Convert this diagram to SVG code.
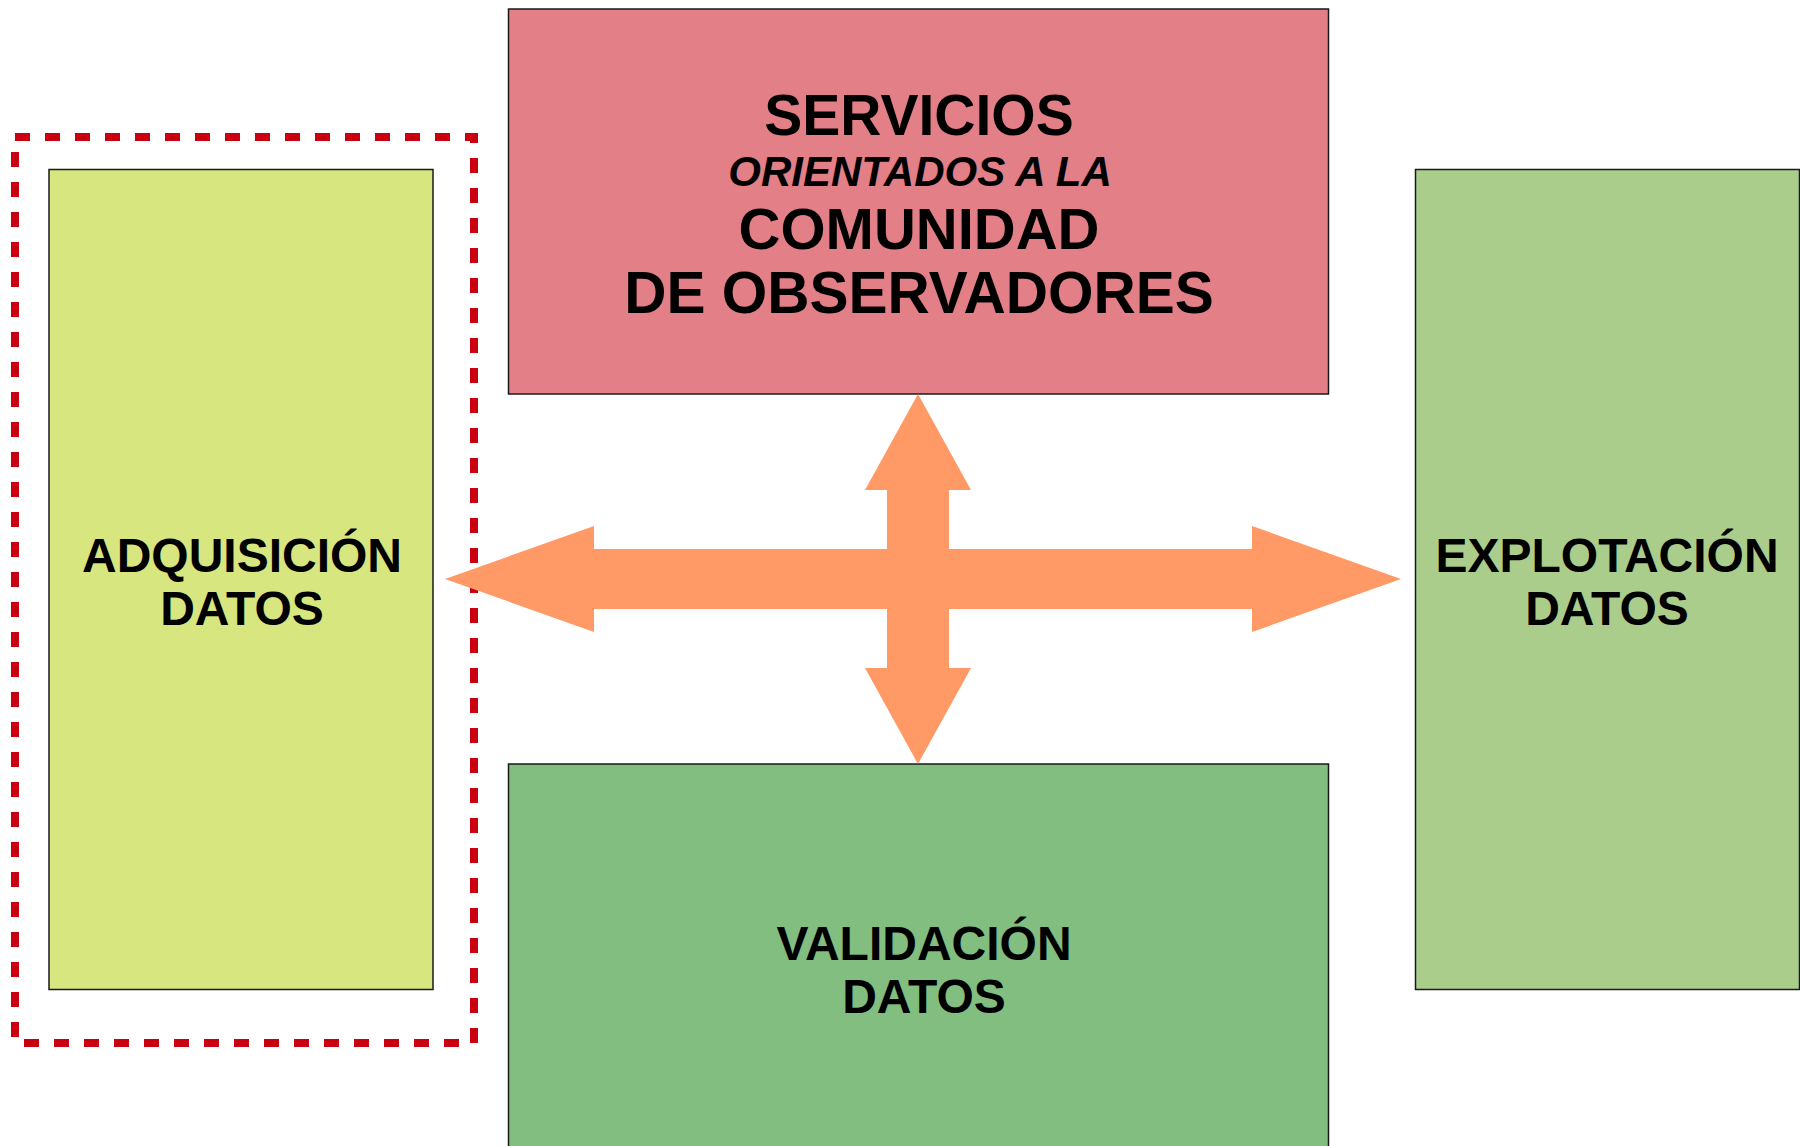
<svg xmlns="http://www.w3.org/2000/svg" width="1800" height="1146" viewBox="0 0 1800 1146">
<style>
.box{stroke:#1a1a1a;stroke-width:1.5}
.t{font-family:"Liberation Sans",Arial,sans-serif;font-weight:bold;fill:#000;text-anchor:middle}
</style>
<rect width="1800" height="1146" fill="#fff"/>
<g id="servicios">
<rect class="box" x="508.5" y="9" width="820" height="385" fill="#e37f86"/>
<text class="t" x="919" y="135" font-size="57">SERVICIOS</text>
<text class="t" x="920" y="186" font-size="42" font-style="italic">ORIENTADOS A LA</text>
<text class="t" x="919" y="249" font-size="58">COMUNIDAD</text>
<text class="t" x="919" y="313" font-size="58.5">DE OBSERVADORES</text>
</g>
<g id="adquisicion">
<rect class="box" x="49" y="169.5" width="384" height="820" fill="#d7e67f"/>
<text class="t" x="242" y="572" font-size="48">ADQUISICIÓN</text>
<text class="t" x="242" y="625" font-size="48">DATOS</text>
</g>
<g id="seleccion">
<rect x="15" y="137" width="459" height="906" fill="none" stroke="#c8000f" stroke-width="8" stroke-dasharray="15 15"/>
</g>
<g id="explotacion">
<rect class="box" x="1415.5" y="169.5" width="384" height="820" fill="#abcd8c"/>
<text class="t" x="1607" y="572" font-size="48">EXPLOTACIÓN</text>
<text class="t" x="1607" y="625" font-size="48">DATOS</text>
</g>
<g id="validacion">
<rect class="box" x="508.5" y="764" width="820" height="400" fill="#82be80"/>
<text class="t" x="924" y="960" font-size="48">VALIDACIÓN</text>
<text class="t" x="924" y="1013" font-size="48">DATOS</text>
</g>
<g id="connectors">
<polygon fill="#ff9966" points="445,579 594,526 594,549 887,549 887,490 865,490 918,394 971,490 949,490 949,549 1252,549 1252,526 1401,579 1252,632 1252,609 949,609 949,668 971,668 918,764 865,668 887,668 887,609 594,609 594,632"/>
</g>
</svg>
